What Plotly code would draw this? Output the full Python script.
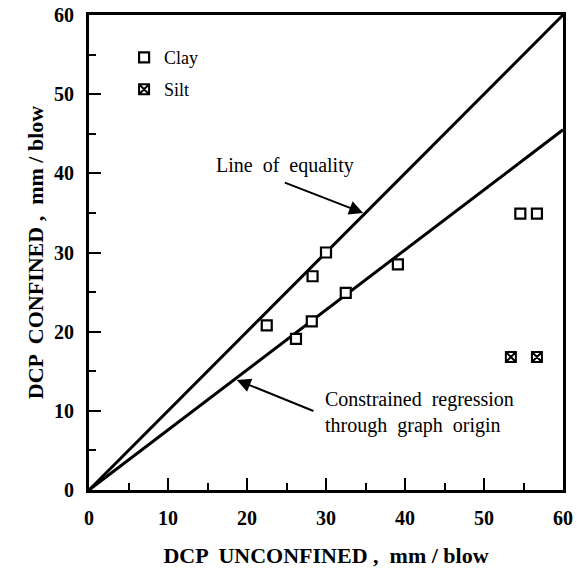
import plotly.graph_objects as go

clay_x = [22.5, 26.2, 28.3, 28.2, 30.0, 32.5, 39.1, 54.6, 56.7]
clay_y = [20.8, 19.1, 27.0, 21.3, 30.0, 24.9, 28.5, 34.9, 34.9]
silt_x = [53.4, 56.7]
silt_y = [16.8, 16.8]

line_x = [0, 60]
equality_y = [0, 60]
regression_y = [0, 45.5]

x_ticks = [0, 10, 20, 30, 40, 50, 60]
y_ticks = [0, 10, 20, 30, 40, 50, 60]

FONT = "Liberation Serif"

fig = go.Figure()
fig.add_trace(go.Scatter(x=line_x, y=equality_y, mode="lines",
                         line=dict(color="black", width=3), showlegend=False, hoverinfo="skip"))
fig.add_trace(go.Scatter(x=line_x, y=regression_y, mode="lines",
                         line=dict(color="black", width=3), showlegend=False, hoverinfo="skip"))
fig.add_trace(go.Scatter(x=clay_x, y=clay_y, mode="markers", name="Clay", legend="legend",
                         marker=dict(symbol="square", size=10, color="white",
                                     line=dict(color="black", width=2.2))))
fig.add_trace(go.Scatter(x=silt_x, y=silt_y, mode="markers", name="Silt", legend="legend2",
                         marker=dict(symbol="square-x", size=10, color="white",
                                     line=dict(color="black", width=2))))

axis_common = dict(
    showline=True, linecolor="black", linewidth=3, mirror=True,
    ticks="inside", tickcolor="black", tickwidth=2, ticklen=12,
    showgrid=False, zeroline=False, automargin=False,
    tickfont=dict(family=FONT, size=20, color="black", weight="bold"),
    minor=dict(ticks="inside", ticklen=7, tickwidth=2, tickcolor="black", dtick=5),
)

fig.update_xaxes(range=[0, 60], tickvals=x_ticks, ticklabelstandoff=8, **axis_common,
                 title=dict(text="DCP  UNCONFINED ,  mm / blow",
                            font=dict(family=FONT, size=22, color="black", weight="bold"), standoff=20))
fig.update_yaxes(range=[0, 60], tickvals=y_ticks, ticklabelstandoff=8, **axis_common,
                 title=dict(text="DCP  CONFINED ,  mm / blow",
                            font=dict(family=FONT, size=22, color="black", weight="bold"), standoff=5))

# arrows
fig.add_annotation(x=34.7, y=35.0, ax=24.6, ay=38.9, axref="x", ayref="y",
                   xref="x", yref="y", text="", showarrow=True,
                   arrowhead=2, arrowsize=1.4, arrowwidth=2, arrowcolor="black")
fig.add_annotation(x=18.7, y=13.9, ax=28.6, ay=9.9, axref="x", ayref="y",
                   xref="x", yref="y", text="", showarrow=True,
                   arrowhead=2, arrowsize=1.4, arrowwidth=2, arrowcolor="black")
# texts
fig.add_annotation(x=24.8, y=41.0, xref="x", yref="y", text="Line  of  equality",
                   showarrow=False, font=dict(family=FONT, size=20, color="black"))
fig.add_annotation(x=29.6, y=9.8, xref="x", yref="y",
                   text="Constrained  regression<br>through  graph  origin",
                   showarrow=False, xanchor="left", align="left",
                   font=dict(family=FONT, size=20, color="black"))

legend_common = dict(xanchor="left", yanchor="top",
                     font=dict(family=FONT, size=18, color="black"),
                     bgcolor="rgba(0,0,0,0)", itemwidth=30)

fig.update_layout(
    width=577, height=572,
    margin=dict(l=89, r=14, t=15, b=82),
    paper_bgcolor="white", plot_bgcolor="white",
    font=dict(family=FONT, color="black"),
    showlegend=True,
    legend=dict(x=0.074, y=0.949, **legend_common),
    legend2=dict(x=0.074, y=0.882, **legend_common),
)

fig.write_html("out.html", config={"displayModeBar": False},
               post_script="document.body.style.margin='0';document.body.style.padding='0';")
